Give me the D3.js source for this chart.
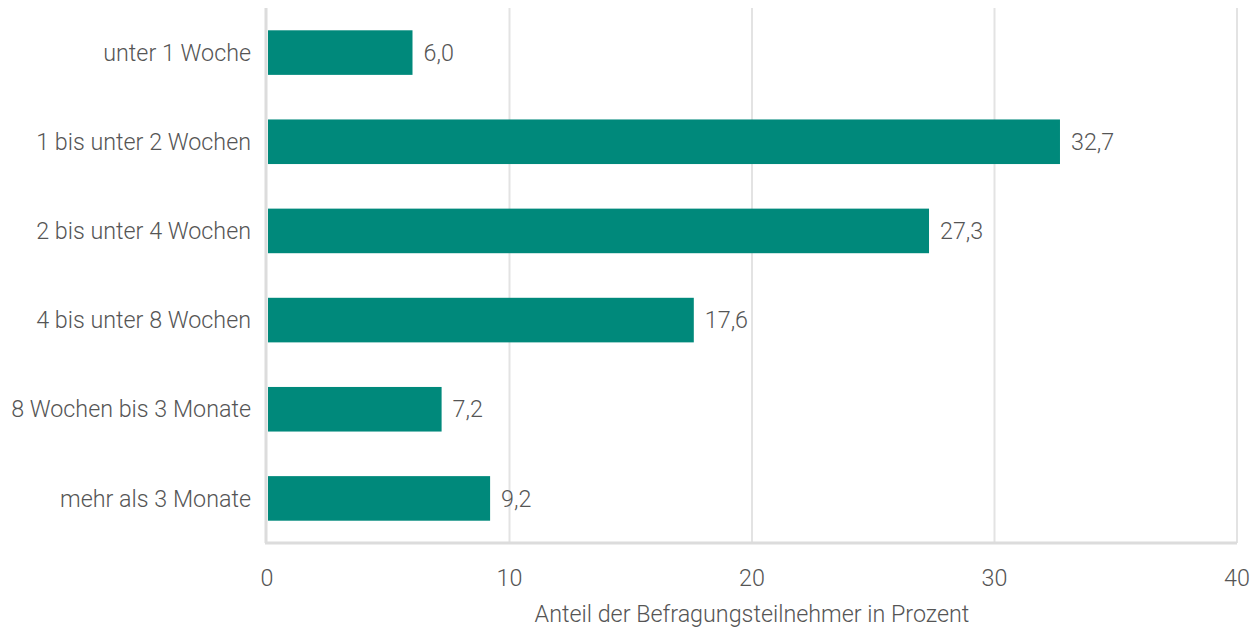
<!DOCTYPE html>
<html lang="de">
<head>
<meta charset="utf-8">
<script src="https://cdn.jsdelivr.net/npm/d3@7"></script>
<style>
  html, body { margin: 0; padding: 0; background: #fff; }
  svg { display: block; }
  text { font-family: Roboto, "Open Sans", sans-serif; font-weight: 300; fill: #555; }
</style>
</head>
<body>
<svg id="chart" width="1253" height="629"></svg>
<script>
// Dauer-Kategorien und Anteile in Prozent
const categories = [
  "unter 1 Woche",
  "1 bis unter 2 Wochen",
  "2 bis unter 4 Wochen",
  "4 bis unter 8 Wochen",
  "8 Wochen bis 3 Monate",
  "mehr als 3 Monate"
];
const values = [6.0, 32.7, 27.3, 17.6, 7.2, 9.2];
const xTicks = [0, 10, 20, 30, 40];
const xTitle = "Anteil der Befragungsteilnehmer in Prozent";

const svg = d3.select("#chart");
const margin = { top: 8, right: 16, bottom: 86, left: 267 };
const width = 1253 - margin.left - margin.right;
const height = 629 - margin.top - margin.bottom;
const fontSize = "23.3px";

const g = svg.append("g").attr("transform", `translate(${margin.left},${margin.top})`);

const x = d3.scaleLinear().domain([0, 40]).range([0, width]);
const y = d3.scaleBand().domain(categories).range([0, height]).paddingInner(0.5).paddingOuter(0.25);

// Gitterlinien
g.selectAll("line.grid")
  .data(xTicks.filter(t => t > 0))
  .join("line")
  .attr("class", "grid")
  .attr("x1", d => x(d)).attr("x2", d => x(d))
  .attr("y1", 0).attr("y2", height)
  .attr("stroke", "#e3e3e3").attr("stroke-width", 2);

// Achsenlinien
g.append("line")
  .attr("x1", -2).attr("x2", width)
  .attr("y1", height).attr("y2", height)
  .attr("stroke", "#dcdcdc").attr("stroke-width", 3);
g.append("line")
  .attr("x1", -1).attr("x2", -1)
  .attr("y1", 0).attr("y2", height)
  .attr("stroke", "#dcdcdc").attr("stroke-width", 3);

// Balken
g.selectAll("rect.bar")
  .data(values)
  .join("rect")
  .attr("class", "bar")
  .attr("x", 1)
  .attr("y", (d, i) => y(categories[i]))
  .attr("width", d => x(d) - 1)
  .attr("height", y.bandwidth())
  .attr("fill", "#00897b");

// Wertbeschriftungen
const fmt = d => d.toFixed(1).replace(".", ",");
g.selectAll("text.val")
  .data(values)
  .join("text")
  .attr("class", "val")
  .attr("x", d => x(d) + 11)
  .attr("y", (d, i) => y(categories[i]) + y.bandwidth() / 2)
  .attr("dy", "0.35em")
  .style("font-size", fontSize)
  .text(fmt);

// Kategorienbeschriftungen
g.selectAll("text.cat")
  .data(categories)
  .join("text")
  .attr("class", "cat")
  .attr("x", -16)
  .attr("y", d => y(d) + y.bandwidth() / 2)
  .attr("dy", "0.35em")
  .attr("text-anchor", "end")
  .style("font-size", fontSize)
  .text(d => d);

// x-Achse Beschriftungen
g.selectAll("text.tick")
  .data(xTicks)
  .join("text")
  .attr("class", "tick")
  .attr("x", d => x(d))
  .attr("y", height + 35)
  .attr("dy", "0.35em")
  .attr("text-anchor", "middle")
  .style("font-size", fontSize)
  .text(d => d);

// Achsentitel
g.append("text")
  .attr("x", width / 2)
  .attr("y", height + 71)
  .attr("dy", "0.35em")
  .attr("text-anchor", "middle")
  .style("font-size", fontSize)
  .text(xTitle);
</script>
</body>
</html>
